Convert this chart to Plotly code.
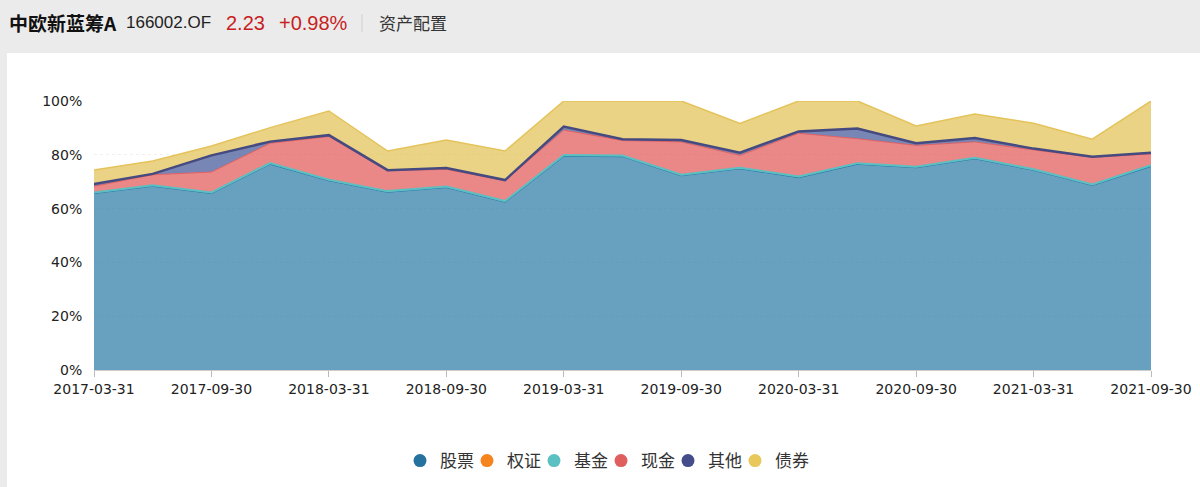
import plotly.graph_objects as go

dates = ["2017-03-31","2017-06-30","2017-09-30","2017-12-31","2018-03-31","2018-06-30",
         "2018-09-30","2018-12-31","2019-03-31","2019-06-30","2019-09-30","2019-12-31",
         "2020-03-31","2020-06-30","2020-09-30","2020-12-31","2021-03-31","2021-06-30","2021-09-30"]
stock   = [65.7,68.4,65.7,76.6,70.4,66.2,67.9,62.5,79.6,79.4,72.3,74.9,71.6,76.6,75.3,78.6,74.3,68.7,75.8]
warrant = [0]*19
fund    = [0.3]*19
cash    = [2.3,3.9,7.6,7.4,16.1,7.6,6.4,7.6,9.3,5.6,12.2,4.6,16.1,9.1,7.9,5.9,7.2,10.1,4.2]
other   = [0.8,0.3,6.2,0.6,0.5,0.2,0.5,0.2,1.3,0.5,0.7,1.0,0.7,3.8,0.8,1.4,0.5,0.2,0.5]
bond    = [5.2,4.8,3.5,5.2,9.0,7.1,10.4,10.8,9.5,14.2,14.5,10.9,11.3,10.2,6.4,9.0,9.4,6.5,19.2]

names = ["股票","权证","基金","现金","其他","债券"]
series = [stock, warrant, fund, cash, other, bond]
line_colors = ["#2a78a6","#f5841f","#5cbfc2","#e06060","#454a80","#e4c35a"]
fill_colors = ["rgba(40,120,165,0.70)","rgba(245,132,31,0.70)","rgba(92,191,194,0.70)",
               "rgba(225,84,84,0.70)","rgba(48,69,141,0.65)","rgba(226,193,83,0.70)"]
line_widths = [1.5, 0, 2, 1, 2.5, 1.5]

L, R, T, B = 94, 1151, 101, 370
W, H = 1200, 487
pw, ph = R - L, B - T
def px(x): return (x - L) / pw
def py(y): return (B - y) / ph

fig = go.Figure()
for n, s, lc, fc, lw in zip(names, series, line_colors, fill_colors, line_widths):
    fig.add_trace(go.Scatter(x=dates, y=s, name=n, stackgroup="one", mode="lines",
                             line=dict(color=lc, width=lw), fillcolor=fc, showlegend=False))
legend_dot = ["#26729e","#f5841f","#5cbfc2","#e05e5e","#454c8a","#e8c85a"]
for i, (n, c) in enumerate(zip(names, legend_dot)):
    fig.add_trace(go.Scatter(x=[None], y=[None], name=n, mode="markers",
                             legendwidth=22 if i < len(names) - 1 else 44,
                             marker=dict(color=c, size=13, symbol="circle")))

fig.add_shape(type="rect", xref="paper", yref="paper", x0=px(7), x1=px(1210),
              y0=py(497), y1=py(53), fillcolor="white", line=dict(width=0), layer="below")
fig.add_shape(type="line", xref="paper", yref="paper", x0=px(362), x1=px(362),
              y0=py(14), y1=py(32), line=dict(color="#d0d0d0", width=1))

header = [
    (7, "<b>中欧新蓝筹A</b>", 19, "#111111", "Noto Sans CJK SC"),
    (124, "166002.OF", 17, "#222222", "Liberation Sans"),
    (224, "2.23", 20, "#c81e1e", "Liberation Sans"),
    (277, "+0.98%", 20, "#c81e1e", "Liberation Sans"),
    (377, "资产配置", 17, "#333333", "Noto Sans CJK SC"),
]
for x, t, s, c, f in header:
    fig.add_annotation(xref="paper", yref="paper", x=px(x), y=py(23), xanchor="left",
                       yanchor="middle", text=t, showarrow=False,
                       font=dict(size=s, color=c, family=f))

fig.update_layout(
    width=W, height=H,
    margin=dict(l=L, r=W - R, t=T, b=H - B, autoexpand=False),
    paper_bgcolor="#ebebeb", plot_bgcolor="white",
    font=dict(family="DejaVu Sans", size=14, color="#333333"),
    legend=dict(orientation="h", x=px(400), xanchor="left", traceorder="normal",
                y=py(461), yanchor="middle", itemwidth=30,
                font=dict(size=17, family="Noto Sans CJK SC", color="#333333"),
                itemclick=False, bgcolor="rgba(0,0,0,0)"),
    showlegend=True,
)
fig.update_xaxes(type="category", range=[0, 18], tickmode="array", tickvals=dates[::2],
                 ticktext=dates[::2], ticks="outside", ticklen=6, tickcolor="#bbbbbb",
                 showline=True, linecolor="#cccccc", linewidth=1, showgrid=False, automargin=False,
                 tickfont=dict(size=14, family="DejaVu Sans", color="#222222"), zeroline=False)
fig.update_yaxes(range=[0, 100], tickvals=[0,20,40,60,80,100],
                 ticktext=["0%","20%","40%","60%","80%","100%"], automargin=False,
                 ticks="outside", ticklen=8, tickcolor="rgba(0,0,0,0)",
                 showgrid=True, gridcolor="#f0f0f0", griddash="dot", zeroline=False,
                 showline=False, tickfont=dict(size=14, family="DejaVu Sans", color="#222222"))

fig.write_html("out.html")
